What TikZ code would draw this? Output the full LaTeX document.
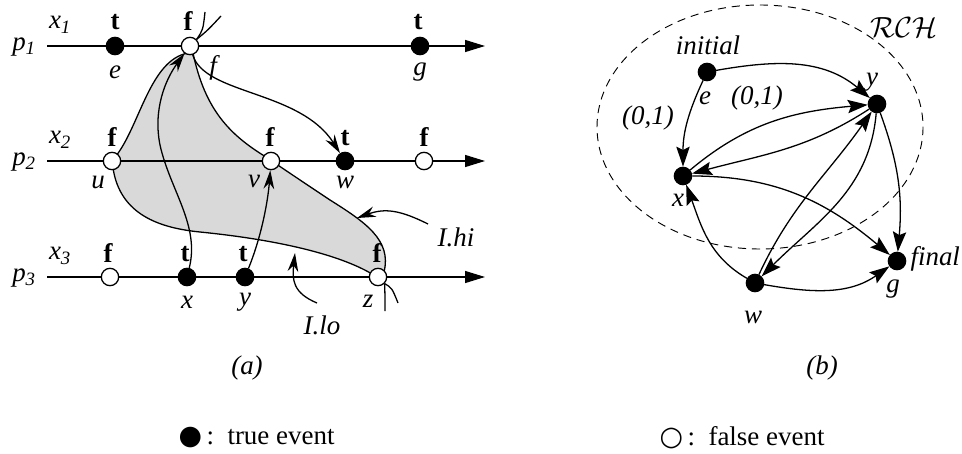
\documentclass[tikz,border=0pt]{standalone}
\usepackage{fontspec}
\setmainfont{Liberation Serif}
\newfontfamily\symfont{DejaVu Sans}
\usepackage{tikz}
\usetikzlibrary{positioning,arrows.meta}
\definecolor{regiongray}{HTML}{D9D9D9}

\begin{document}
\begin{tikzpicture}[x=0.03cm,y=-0.03cm,line width=1.1pt,
    every node/.style={font=\fontsize{23}{27}\selectfont},
    tev/.style={circle,draw,fill=black,minimum size=0.52cm,inner sep=0pt},
    fev/.style={circle,draw,fill=white,minimum size=0.52cm,inner sep=0pt},
    lbl/.style={font=\fontsize{23}{27}\selectfont\itshape},
    val/.style={font=\fontsize{23}{27}\selectfont\bfseries},
    proc/.style={-{Triangle[length=0.6cm,width=0.36cm]}},
    msg/.style={-{Stealth[length=0.56cm,width=0.32cm]}},
    hb/.style={-{Stealth[length=0.6cm,width=0.4cm,inset=0.1cm]}}]
  \useasboundingbox (0,0) rectangle (962,454);

  % (a) the three processes
  \filldraw[fill=regiongray] (188,53) .. controls (150,60) and (140,125) .. (116,156)
    -- (113,168) .. controls (120,215) and (160,228) .. (200,232)
    .. controls (280,240) and (340,255) .. (372,274) -- (384,272)
    .. controls (392,240) and (365,222) .. (330,200)
    .. controls (300,180) and (285,170) .. (266,157)
    .. controls (230,135) and (205,110) .. (193,53) -- cycle;
  \foreach \row/\py in {1/46,2/161,3/277}{
    \coordinate (s\row) at (47,\py);
    \coordinate (t\row) at (485,\py);
    \draw[proc] (s\row) -- (t\row);
    \node[lbl] (p\row) at (24,\py+1) {p\textsubscript{\row}};
    \node[lbl] (x\row) at (60,\py-21) {x\textsubscript{\row}};
  }

  \node[tev] (e) at (115,46) {};
  \node[fev] (f) at (190,46) {};
  \node[tev] (g) at (420,46) {};
  \node[fev] (u) at (112,161) {};
  \node[fev] (v) at (271,161) {};
  \node[tev] (w) at (345,161) {};
  \node[fev] (k) at (424,161) {};
  \node[fev] (h) at (110,277) {};
  \node[tev] (x) at (187,277) {};
  \node[tev] (y) at (245,277) {};
  \node[fev] (z) at (378,277) {};

  \node[val] (te) at (115,22) {t};
  \node[val] (tf) at (188,21) {f};
  \node[val] (tg) at (418,22) {t};
  \node[val] (tu) at (112,137) {f};
  \node[val] (tv) at (270,137) {f};
  \node[val] (tw) at (345,138) {t};
  \node[val] (tk) at (424,137) {f};
  \node[val] (th) at (108,253) {f};
  \node[val] (tx) at (185,254) {t};
  \node[val] (ty) at (243,254) {t};
  \node[val] (tz) at (377,253) {f};

  \node[lbl] (le) at (115,72) {e};
  \node[lbl] (lf) at (213,68) {f};
  \node[lbl] (lg) at (420,72) {g};
  \node[lbl] (lu) at (98,182) {u};
  \node[lbl] (lv) at (254,181) {v};
  \node[lbl] (lw) at (345,182) {w};
  \node[lbl] (lx) at (187,302) {x};
  \node[lbl] (ly) at (245,302) {y};
  \node[lbl] (lz) at (368,301) {z};

  \draw[msg] (x) .. controls (200,225) and (170,190) .. (160,145)
    .. controls (153,110) and (165,80) .. (f);
  \draw[msg] (y) .. controls (262,235) and (268,200) .. (v);
  \draw[msg] (f) .. controls (205,95) and (300,90) .. (w);

  \coordinate (fa1) at (205,12);
  \coordinate (fa2) at (221,16);
  \coordinate (za1) at (385,311);
  \coordinate (za2) at (398,303);
  \draw (f.north east) .. controls (203,30) .. (fa1);
  \draw (f.north east) .. controls (208,30) .. (fa2);
  \draw (z.south east) .. controls (385,295) .. (za1);
  \draw (z.south east) .. controls (392,288) .. (za2);

  \node[lbl] (ihi) at (456,237) {I.hi};
  \node[lbl] (ilo) at (322,325) {I.lo};
  \coordinate (hia) at (428,224);
  \coordinate (hit) at (357,218);
  \coordinate (loa) at (317,303);
  \coordinate (lot) at (295,253);
  \draw[msg] (hia) .. controls (400,210) and (385,208) .. (hit);
  \draw[msg] (loa) .. controls (293,293) and (292,280) .. (lot);

  \node[lbl] (capa) at (247,368) {(a)};

  % (b) the graph
  \draw[dash pattern=on 7pt off 5pt,line width=0.8pt] (760,127) ellipse [x radius=163, y radius=122];
  \node (rch) at (904,28) {$\mathcal{RCH}$};

  \node[tev] (re) at (707,72) {};
  \node[tev] (ry) at (877,104) {};
  \node[tev] (rx) at (683,176) {};
  \node[tev] (rw) at (755,283) {};
  \node[tev] (rg) at (897,261) {};

  \node[lbl] (linit) at (708,45) {initial};
  \node[lbl] (lre) at (705,98) {e};
  \node[lbl] (lry) at (872,82) {y};
  \node[lbl] (lrx) at (678,200) {x};
  \node[lbl] (lrw) at (753,317) {w};
  \node[lbl] (lrg) at (893,289) {g};
  \node[lbl,anchor=west] (lfin) at (906,259) {final};
  \node[lbl] (lab1) at (648,118) {(0,1)};
  \node[lbl] (lab2) at (757,98) {(0,1)};

  \draw[hb] (re) to[out=10,in=140] (ry);
  \draw[hb] (re) to[out=-115,in=90] (rx);
  \draw[hb] (rx) to[out=40,in=185] (ry);
  \draw[hb] (ry) to[out=-147,in=15] (rx);
  \draw[hb] (rx) to[out=0,in=140] (rg);
  \draw[hb] (ry) to[out=-70,in=85] (rg);
  \draw[hb] (rw) to[out=150,in=-70] (rx);
  \draw[hb] (rw) to[out=65,in=-125] (ry);
  \draw[hb] (ry) to[out=-95,in=45] (rw);
  \draw[hb] (rw) to[out=-10,in=-145] (rg);

  \node[lbl] (capb) at (822,368) {(b)};

  % legend
  \node[anchor=west] (ktrue) at (174,438) {{\symfont●}\,:\ \ true event};
  \node[anchor=west] (kfalse) at (655,438) {{\symfont○}\,:\ \ false event};
\end{tikzpicture}
\end{document}
